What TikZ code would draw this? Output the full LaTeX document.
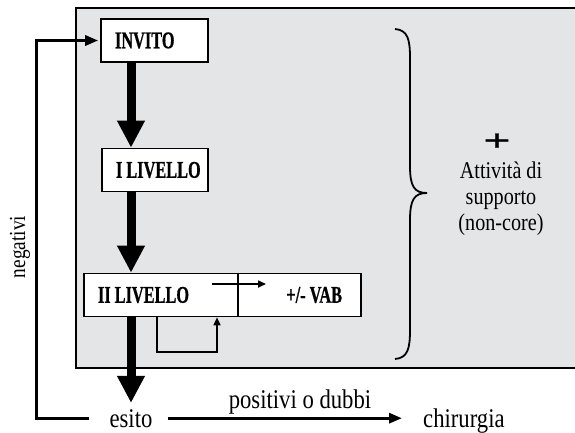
\documentclass[tikz,border=0pt]{standalone}
\usepackage{fontspec}
\setmainfont{Liberation Serif}[FakeStretch=0.84]
\newfontfamily\boxfont{Liberation Serif Bold}[FakeStretch=0.68, FakeBold=0.6]
\newfontfamily\plusfont{Liberation Serif Bold}[FakeStretch=1.6, FakeBold=1]
\usetikzlibrary{arrows.meta}
\definecolor{panelgray}{RGB}{228,229,231}
\begin{document}
\begin{tikzpicture}[x=1pt, y=-1pt,
  stepbox/.style={draw, line width=1.6pt, fill=white, font=\fontsize{24}{26}\boxfont,
    inner xsep=14pt, inner ysep=0pt, minimum height=43pt},
  bigarrow/.style={line width=9pt, -{Triangle[width=26pt,length=27pt]}},
  thinarrow/.style={line width=3pt, -{Triangle[width=10pt,length=13pt]}},
  smallarrow/.style={line width=1.6pt, -{Triangle[width=7pt,length=8pt]}},
  outtext/.style={font=\fontsize{27}{29}\selectfont, inner sep=4pt}]
\useasboundingbox (0,0) rectangle (575,432);
\path[draw, fill=panelgray, line width=2.2pt] (76,8) rectangle (590,368);
\node[stepbox, text width=79pt, align=left] (invito) at (154.5,40.5) {\mbox{INVITO}};
\node[stepbox, text width=78pt, align=left] (liv1) at (155,170) {\mbox{I\,LIVELLO}};
\node[stepbox, text width=126pt, align=left] (liv2) at (161,295) {\mbox{II\,LIVELLO}};
\node[stepbox, text width=85pt, inner xsep=19pt, align=right] (vab) at (299.5,295) {\mbox{+/-\,VAB}};
\node[outtext, anchor=base] (esito) at (131,427) {esito};
\node[outtext, anchor=base west] (chirurgia) at (419,427) {chirurgia};
\node[outtext, anchor=base] (posdub) at (300,408) {positivi o dubbi};
\node[font=\fontsize{23}{25}\selectfont, rotate=90] (negativi) at (20,247) {negativi};
\node[font=\fontsize{24}{26}\selectfont, align=center] (attivita) at (501,199) {Attività di\\supporto\\(non-core)};
\node[font=\fontsize{30}{30}\plusfont] (plus) at (497,142) {+};
\coordinate (fbturn) at (36,43);
\coordinate (splitA) at (212,284);
\coordinate (splitB) at (266,284);
\coordinate (loopL) at (157,352);
\coordinate (loopR) at (217,352);
\path[draw, bigarrow] (invito.south -| esito) -- (liv1.north -| esito);
\path[draw, bigarrow] (liv1.south -| esito) -- (liv2.north -| esito);
\path[draw, bigarrow, shorten >=2pt] (liv2.south -| esito) -- (esito.north);
\path[draw, smallarrow] (splitA) -- (splitB);
\path[draw, smallarrow] (liv2.south -| loopL) -- (loopL) -- (loopR) -- (liv2.south -| loopR);
\path[draw, thinarrow, shorten <=16pt, shorten >=2pt] (esito.west) -| (fbturn) |- (invito.west);
\path[draw, thinarrow, shorten <=11pt, shorten >=17pt] (esito.east) -- (esito.east -| chirurgia.west);
\path[draw, line width=1.8pt] (395,29) .. controls (408,30) and (410,40) .. (410,58) -- (410,166)
  .. controls (410,186) and (414,193) .. (427,193) .. controls (414,193) and (410,200) .. (410,220)
  -- (410,330) .. controls (410,348) and (408,358) .. (395,359);
\end{tikzpicture}
\end{document}
